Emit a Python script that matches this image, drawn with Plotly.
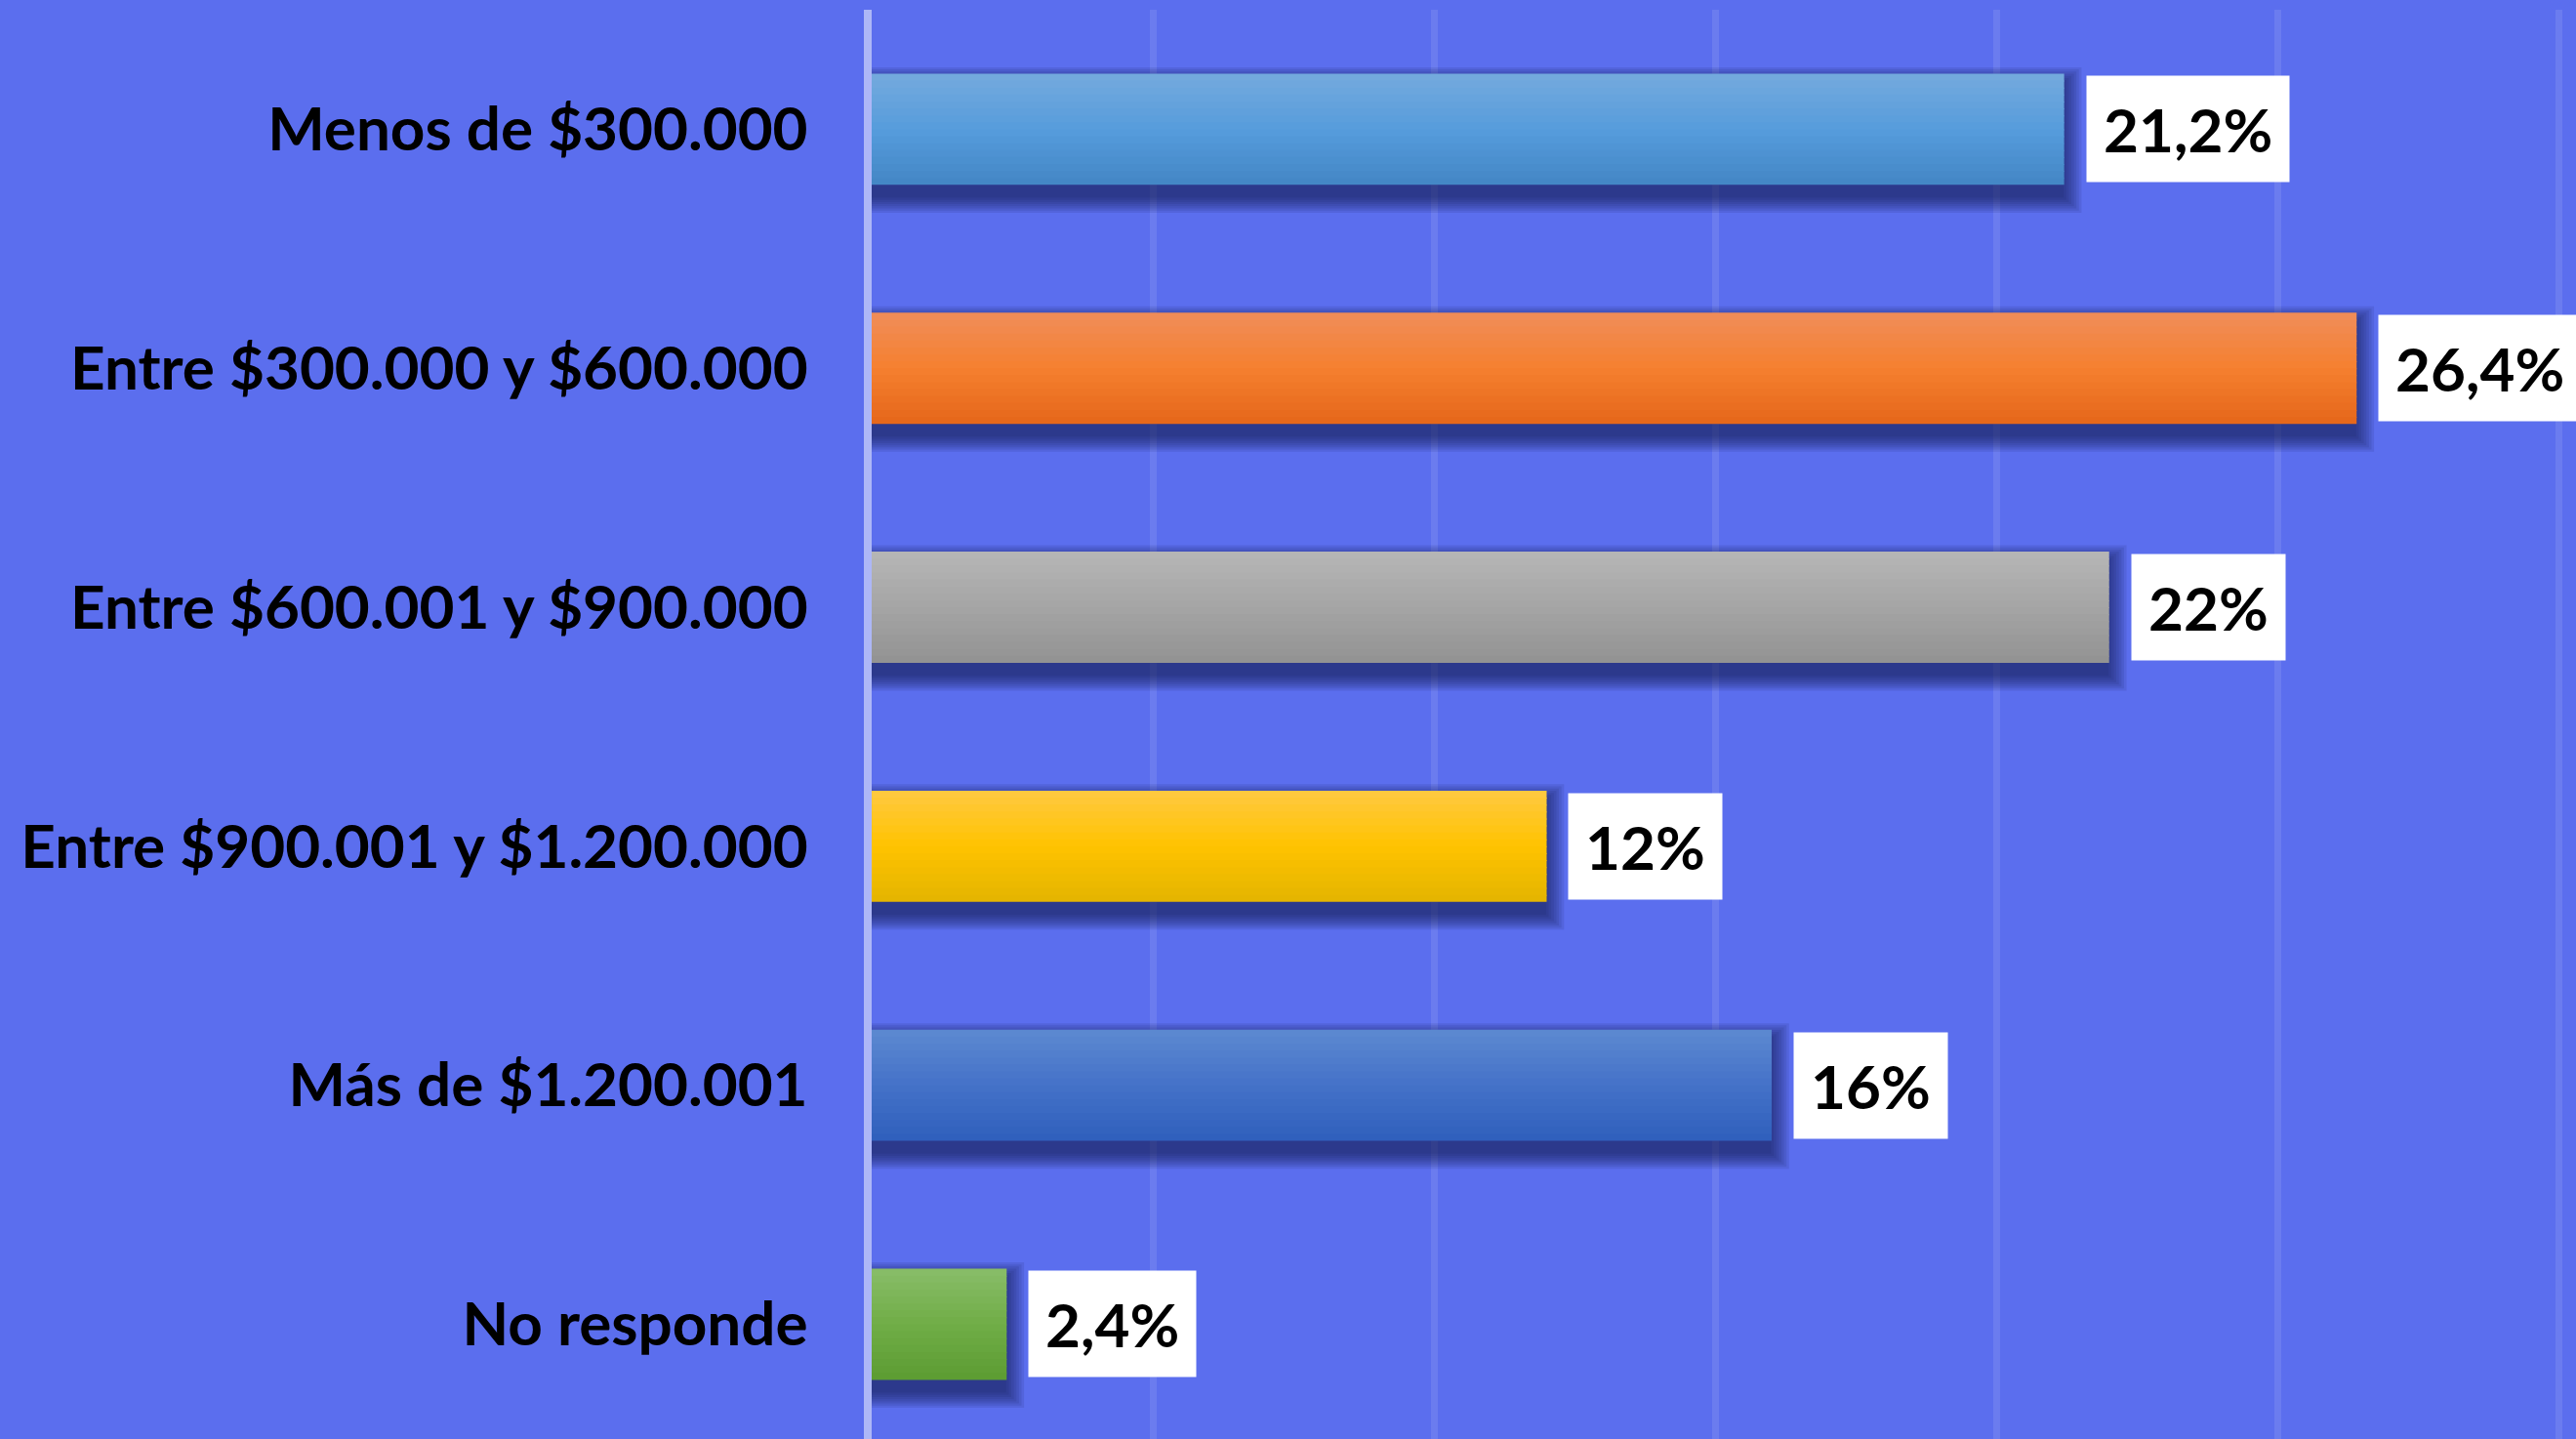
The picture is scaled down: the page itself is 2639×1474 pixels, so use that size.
import plotly.graph_objects as go

# ---------------- data ----------------
categories = [
    "Menos de $300.000",
    "Entre $300.000 y $600.000",
    "Entre $600.001 y $900.000",
    "Entre $900.001 y $1.200.000",
    "Más de $1.200.001",
    "No responde",
]
values = [21.2, 26.4, 22.0, 12.0, 16.0, 2.4]
value_labels = ["21,2%", "26,4%", "22%", "12%", "16%", "2,4%"]

# gradient colours per bar (top, middle, bottom)
top_colors = ["#75AADD", "#F08D5A", "#B6B6B6", "#FFC942", "#5D89D1", "#89BD69"]
mid_colors = ["#569CDC", "#F5802F", "#A5A5A5", "#FFC300", "#4472C8", "#70AD47"]
bot_colors = ["#4386C5", "#E5661A", "#929292", "#E3B400", "#2F5FBC", "#5C9C32"]

# ---------------- style ----------------
BG = "#5B6EEE"
FONT = "Lato, 'Open Sans', sans-serif"
FONT_SIZE = 62
BAR_W = 0.465
N_BANDS = 16
PX_PER_UNIT_Y = 245.0
PX_PER_UNIT_X = 57.63


def hex2rgb(h):
    h = h.lstrip("#")
    return tuple(int(h[i:i + 2], 16) for i in (0, 2, 4))


def lerp(c1, c2, t):
    a, b = hex2rgb(c1), hex2rgb(c2)
    return "rgb(%d,%d,%d)" % tuple(round(a[i] + (b[i] - a[i]) * t) for i in range(3))


def grad(i, t):
    if t < 0.5:
        return lerp(top_colors[i], mid_colors[i], t / 0.5)
    return lerp(mid_colors[i], bot_colors[i], (t - 0.5) / 0.5)


fig = go.Figure()
h = BAR_W / 2

# soft drop shadow (many faint translucent layers, offset downwards)
dy = 11 / PX_PER_UNIT_Y
for k in range(1, 9):
    ey = k * 2.2 / PX_PER_UNIT_Y
    ex = (k * 2.6 - 3) / PX_PER_UNIT_X
    fig.add_trace(go.Bar(
        x=[v + ex for v in values], y=categories, orientation="h",
        width=BAR_W + 2 * ey, offset=-(h + ey) + dy,
        marker=dict(color="rgba(20,25,80,0.11)", line=dict(width=0)),
        hoverinfo="skip", showlegend=False,
    ))

# bars drawn as stacked horizontal bands to give a vertical gradient
bw = BAR_W / N_BANDS
for j in range(N_BANDS):
    t = (j + 0.5) / N_BANDS
    w = bw if j == N_BANDS - 1 else bw + 0.004
    fig.add_trace(go.Bar(
        x=values, y=categories, orientation="h",
        width=w, offset=-h + j * bw,
        marker=dict(color=[grad(i, t) for i in range(len(values))], line=dict(width=0)),
        hoverinfo="skip", showlegend=False,
    ))

# value labels in white boxes
for v, c, lab in zip(values, categories, value_labels):
    fig.add_annotation(
        x=v, y=c, xref="x", yref="y", text=lab, showarrow=False,
        xanchor="left", yanchor="middle", xshift=22,
        bgcolor="white", borderpad=17,
        font=dict(family=FONT, size=FONT_SIZE, color="black", weight="bold"),
    )

fig.update_layout(
    width=2639, height=1474,
    margin=dict(l=893, r=0, t=10, b=0, pad=0),
    paper_bgcolor=BG, plot_bgcolor=BG,
    barmode="overlay", showlegend=False,
    xaxis=dict(
        range=[0, 30.30], dtick=5, showgrid=True,
        gridcolor="rgba(255,255,255,0.1)", gridwidth=7,
        zeroline=False, showline=False, showticklabels=False, fixedrange=True,
    ),
    yaxis=dict(
        type="category", categoryorder="array", categoryarray=categories,
        range=[5.48, -0.5], showgrid=False, zeroline=False,
        showline=True, linecolor="rgba(255,255,255,0.5)", linewidth=8,
        ticks="", ticklabelstandoff=45,
        tickfont=dict(family=FONT, size=FONT_SIZE, color="black", weight="bold"),
        fixedrange=True,
    ),
)

fig.write_html(
    "out.html",
    config={"displayModeBar": False},
    post_script="document.body.style.margin='0';document.body.style.background='%s';" % BG,
)
